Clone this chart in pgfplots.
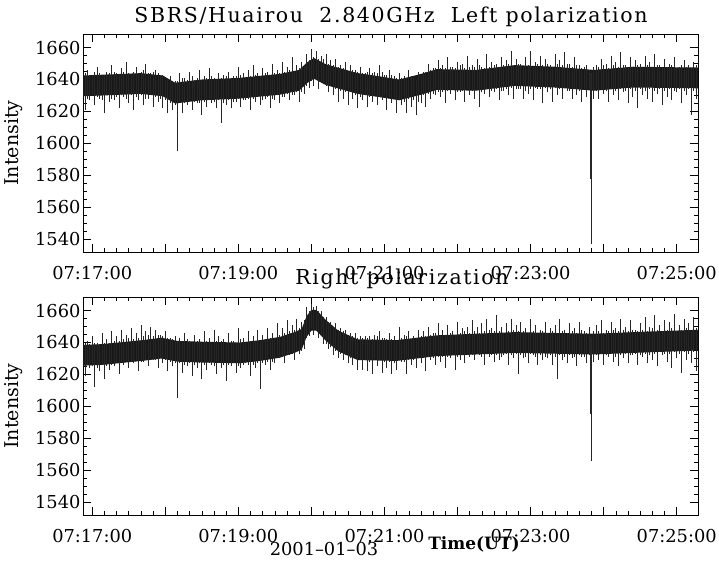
\documentclass[border=0pt]{standalone}
\usepackage{fontspec}
\setmainfont{DejaVu Serif}
\usepackage{pgfplots}
\usepackage{pgfplotstable}
\pgfplotsset{compat=1.18}

% samples every 2 s after 07:17:00 UT: lowest and highest value in each sample
\pgfplotstableread[row sep=\\]{
t lo hi\\
-8 1629 1644\\ -6 1621 1644\\ -4 1628 1646\\ -2 1627 1643\\ 0 1630 1643\\ 2 1624 1645\\ 4 1629 1648\\ 6 1628 1644\\ 8 1627 1642\\ 10 1619 1643\\
12 1630 1645\\ 14 1626 1644\\ 16 1628 1649\\ 18 1627 1645\\ 20 1629 1644\\ 22 1622 1643\\ 24 1630 1647\\ 26 1629 1645\\ 28 1628 1651\\ 30 1625 1644\\
32 1630 1643\\ 34 1621 1645\\ 36 1629 1648\\ 38 1627 1644\\ 40 1630 1645\\ 42 1624 1646\\ 44 1628 1650\\ 46 1628 1644\\ 48 1631 1644\\ 50 1623 1645\\
52 1629 1646\\ 54 1626 1644\\ 56 1628 1643\\ 58 1622 1643\\ 60 1627 1640\\ 62 1619 1640\\ 64 1625 1642\\ 66 1621 1639\\ 68 1624 1639\\ 70 1595 1639\\
72 1626 1644\\ 74 1619 1641\\ 76 1625 1641\\ 78 1624 1640\\ 80 1627 1645\\ 82 1621 1642\\ 84 1626 1640\\ 86 1625 1641\\ 88 1625 1646\\ 90 1618 1640\\
92 1626 1642\\ 94 1623 1641\\ 96 1627 1647\\ 98 1625 1642\\ 100 1626 1641\\ 102 1622 1640\\ 104 1627 1644\\ 106 1613 1641\\ 108 1625 1643\\ 110 1624 1642\\
112 1627 1645\\ 114 1622 1641\\ 116 1626 1642\\ 118 1626 1642\\ 120 1628 1648\\ 122 1623 1643\\ 124 1627 1644\\ 126 1627 1641\\ 128 1628 1646\\ 130 1621 1642\\
132 1628 1649\\ 134 1626 1643\\ 136 1629 1644\\ 138 1624 1642\\ 140 1627 1647\\ 142 1628 1644\\ 144 1629 1645\\ 146 1622 1643\\ 148 1628 1650\\ 150 1627 1644\\
152 1630 1646\\ 154 1625 1644\\ 156 1629 1651\\ 158 1629 1645\\ 160 1631 1648\\ 162 1627 1646\\ 164 1630 1654\\ 166 1630 1645\\ 168 1632 1649\\ 170 1626 1647\\
172 1632 1651\\ 174 1631 1648\\ 176 1636 1656\\ 178 1635 1652\\ 180 1639 1659\\ 182 1636 1654\\ 184 1640 1658\\ 186 1634 1653\\ 188 1638 1655\\ 190 1637 1653\\
192 1636 1656\\ 194 1632 1650\\ 196 1636 1652\\ 198 1630 1649\\ 200 1634 1653\\ 202 1626 1648\\ 204 1633 1649\\ 206 1628 1647\\ 208 1632 1651\\ 210 1624 1645\\
212 1632 1649\\ 214 1628 1646\\ 216 1630 1646\\ 218 1622 1645\\ 220 1629 1648\\ 222 1627 1644\\ 224 1630 1644\\ 226 1623 1645\\ 228 1629 1647\\ 230 1626 1644\\
232 1630 1645\\ 234 1624 1644\\ 236 1629 1649\\ 238 1627 1645\\ 240 1630 1643\\ 242 1621 1643\\ 244 1629 1646\\ 246 1625 1643\\ 248 1628 1642\\ 250 1619 1641\\
252 1627 1644\\ 254 1624 1641\\ 256 1626 1642\\ 258 1619 1641\\ 260 1628 1646\\ 262 1623 1642\\ 264 1627 1641\\ 266 1618 1640\\ 268 1626 1645\\ 270 1625 1642\\
272 1630 1645\\ 274 1623 1645\\ 276 1631 1650\\ 278 1628 1646\\ 280 1631 1647\\ 282 1630 1647\\ 284 1632 1652\\ 286 1629 1647\\ 288 1632 1649\\ 290 1625 1647\\
292 1633 1654\\ 294 1631 1648\\ 296 1634 1648\\ 298 1627 1647\\ 300 1632 1651\\ 302 1632 1649\\ 304 1633 1650\\ 306 1626 1647\\ 308 1634 1655\\ 310 1630 1648\\
312 1633 1649\\ 314 1628 1648\\ 316 1634 1653\\ 318 1623 1649\\ 320 1632 1648\\ 322 1631 1647\\ 324 1634 1656\\ 326 1629 1648\\ 328 1633 1651\\ 330 1632 1649\\
332 1634 1650\\ 334 1627 1648\\ 336 1633 1654\\ 338 1633 1649\\ 340 1634 1652\\ 342 1630 1650\\ 344 1635 1658\\ 346 1628 1648\\ 348 1634 1653\\ 350 1634 1650\\
352 1634 1650\\ 354 1628 1648\\ 356 1633 1654\\ 358 1631 1649\\ 360 1634 1658\\ 362 1627 1648\\ 364 1635 1651\\ 366 1634 1650\\ 368 1634 1655\\ 370 1625 1649\\
372 1635 1653\\ 374 1632 1650\\ 376 1634 1649\\ 378 1626 1648\\ 380 1635 1656\\ 382 1630 1650\\ 384 1634 1652\\ 386 1628 1649\\ 388 1635 1657\\ 390 1633 1650\\
392 1633 1650\\ 394 1628 1648\\ 396 1634 1654\\ 398 1630 1649\\ 400 1633 1649\\ 402 1626 1647\\ 404 1634 1648\\ 406 1629 1649\\ 408 1634 1646\\ 409.5 1578 1644\\
410 1537 1644\\ 412 1628 1648\\ 414 1633 1649\\ 416 1628 1648\\ 418 1634 1653\\ 420 1631 1649\\ 422 1633 1650\\ 424 1626 1647\\ 426 1634 1655\\ 428 1630 1649\\
430 1633 1651\\ 432 1627 1648\\ 434 1634 1657\\ 436 1632 1649\\ 438 1633 1649\\ 440 1625 1647\\ 442 1634 1654\\ 444 1629 1648\\ 446 1633 1652\\ 448 1622 1649\\
450 1634 1650\\ 452 1630 1647\\ 454 1633 1655\\ 456 1628 1649\\ 458 1634 1651\\ 460 1626 1648\\ 462 1633 1656\\ 464 1631 1649\\ 466 1634 1649\\ 468 1624 1647\\
470 1633 1653\\ 472 1629 1648\\ 474 1634 1650\\ 476 1627 1649\\ 478 1633 1654\\ 480 1632 1647\\ 482 1634 1648\\ 484 1625 1649\\ 486 1633 1652\\ 488 1630 1648\\
490 1634 1649\\ 492 1618 1647\\ 494 1633 1651\\ 496 1628 1649\\ 498 1634 1653\\
}\lefttab

\pgfplotstableread[row sep=\\]{
t lo hi\\
-8 1625 1643\\ -6 1619 1640\\ -4 1626 1641\\ -2 1624 1639\\ 0 1625 1644\\ 2 1612 1640\\ 4 1624 1640\\ 6 1622 1639\\ 8 1626 1646\\ 10 1617 1640\\
12 1625 1642\\ 14 1623 1640\\ 16 1626 1647\\ 18 1625 1641\\ 20 1627 1644\\ 22 1620 1641\\ 24 1628 1648\\ 26 1626 1642\\ 28 1628 1645\\ 30 1624 1643\\
32 1628 1649\\ 34 1627 1642\\ 36 1629 1646\\ 38 1622 1643\\ 40 1628 1651\\ 42 1628 1644\\ 44 1629 1647\\ 46 1625 1645\\ 48 1630 1650\\ 50 1629 1644\\
52 1629 1648\\ 54 1624 1645\\ 56 1630 1645\\ 58 1627 1644\\ 60 1629 1647\\ 62 1622 1643\\ 64 1628 1643\\ 66 1625 1642\\ 68 1627 1644\\ 70 1605 1641\\
72 1627 1643\\ 74 1621 1641\\ 76 1626 1646\\ 78 1625 1642\\ 80 1627 1641\\ 82 1619 1640\\ 84 1626 1645\\ 86 1624 1641\\ 88 1627 1642\\ 90 1617 1640\\
92 1626 1647\\ 94 1623 1641\\ 96 1627 1643\\ 98 1626 1640\\ 100 1625 1648\\ 102 1620 1641\\ 104 1627 1644\\ 106 1624 1641\\ 108 1626 1642\\ 110 1616 1640\\
112 1626 1646\\ 114 1625 1641\\ 116 1627 1641\\ 118 1621 1640\\ 120 1625 1649\\ 122 1624 1642\\ 124 1626 1643\\ 126 1627 1640\\ 128 1626 1647\\ 130 1619 1641\\
132 1626 1644\\ 134 1624 1641\\ 136 1627 1648\\ 138 1611 1641\\ 140 1627 1645\\ 142 1626 1642\\ 144 1628 1649\\ 146 1623 1643\\ 148 1628 1646\\ 150 1627 1643\\
152 1631 1652\\ 154 1630 1645\\ 156 1631 1649\\ 158 1627 1646\\ 160 1633 1654\\ 162 1632 1647\\ 164 1633 1651\\ 166 1629 1648\\ 168 1634 1655\\ 170 1633 1649\\
172 1635 1653\\ 174 1636 1654\\ 176 1643 1662\\ 178 1644 1660\\ 180 1649 1664\\ 182 1645 1662\\ 184 1648 1663\\ 186 1643 1660\\ 188 1644 1660\\ 190 1639 1656\\
192 1639 1656\\ 194 1636 1653\\ 196 1637 1653\\ 198 1632 1650\\ 200 1635 1652\\ 202 1630 1648\\ 204 1633 1649\\ 206 1629 1647\\ 208 1632 1648\\ 210 1627 1645\\
212 1630 1646\\ 214 1626 1644\\ 216 1630 1646\\ 218 1623 1643\\ 220 1629 1644\\ 222 1623 1643\\ 224 1629 1644\\ 226 1622 1643\\ 228 1628 1644\\ 230 1620 1642\\
232 1630 1645\\ 234 1625 1644\\ 236 1629 1647\\ 238 1621 1643\\ 240 1628 1643\\ 242 1624 1642\\ 244 1628 1646\\ 246 1620 1642\\ 248 1627 1644\\ 250 1623 1641\\
252 1629 1650\\ 254 1628 1643\\ 256 1628 1645\\ 258 1620 1644\\ 260 1629 1647\\ 262 1626 1642\\ 264 1629 1644\\ 266 1624 1643\\ 268 1630 1648\\ 270 1627 1644\\
272 1630 1647\\ 274 1622 1644\\ 276 1631 1650\\ 278 1629 1645\\ 280 1630 1646\\ 282 1626 1646\\ 284 1631 1652\\ 286 1628 1644\\ 288 1631 1648\\ 290 1624 1645\\
292 1631 1651\\ 294 1630 1646\\ 296 1632 1647\\ 298 1623 1645\\ 300 1631 1653\\ 302 1629 1646\\ 304 1632 1649\\ 306 1627 1647\\ 308 1632 1650\\ 310 1631 1646\\
312 1632 1654\\ 314 1629 1647\\ 316 1633 1650\\ 318 1632 1646\\ 320 1631 1652\\ 322 1626 1647\\ 324 1633 1655\\ 326 1631 1648\\ 328 1632 1649\\ 330 1628 1647\\
332 1632 1657\\ 334 1629 1647\\ 336 1631 1650\\ 338 1632 1646\\ 340 1633 1652\\ 342 1626 1647\\ 344 1632 1655\\ 346 1630 1648\\ 348 1633 1651\\ 350 1620 1647\\
352 1632 1653\\ 354 1630 1647\\ 356 1631 1649\\ 358 1627 1646\\ 360 1633 1655\\ 362 1632 1647\\ 364 1631 1651\\ 366 1626 1646\\ 368 1632 1648\\ 370 1629 1647\\
372 1631 1653\\ 374 1630 1646\\ 376 1632 1649\\ 378 1626 1647\\ 380 1631 1651\\ 382 1617 1646\\ 384 1632 1655\\ 386 1629 1647\\ 388 1631 1648\\ 390 1627 1646\\
392 1632 1652\\ 394 1630 1647\\ 396 1631 1649\\ 398 1625 1646\\ 400 1632 1653\\ 402 1631 1648\\ 404 1631 1647\\ 406 1627 1646\\ 408 1632 1650\\ 409.5 1595 1644\\
410 1566 1643\\ 412 1628 1647\\ 414 1632 1651\\ 416 1629 1647\\ 418 1633 1654\\ 420 1626 1646\\ 422 1632 1648\\ 424 1631 1647\\ 426 1633 1653\\ 428 1628 1648\\
430 1631 1649\\ 432 1625 1647\\ 434 1632 1655\\ 436 1630 1648\\ 438 1633 1650\\ 440 1627 1647\\ 442 1632 1654\\ 444 1632 1648\\ 446 1633 1648\\ 448 1626 1647\\
450 1632 1652\\ 452 1631 1648\\ 454 1633 1656\\ 456 1627 1647\\ 458 1632 1650\\ 460 1629 1649\\ 462 1633 1657\\ 464 1625 1648\\ 466 1634 1651\\ 468 1632 1647\\
470 1633 1654\\ 472 1628 1648\\ 474 1633 1653\\ 476 1624 1649\\ 478 1634 1658\\ 480 1630 1647\\ 482 1633 1651\\ 484 1621 1648\\ 486 1634 1655\\ 488 1629 1649\\
490 1633 1652\\ 492 1627 1648\\ 494 1634 1656\\ 496 1622 1649\\ 498 1633 1653\\
}\righttab

\pgfplotsset{
  panel/.style={
    at={(83pt,#1)}, anchor=north west,
    scale only axis, width=615pt, height=218pt,
    xmin=-7.6, xmax=497.5, ymin=1532, ymax=1668.5,
    xtick={0,60,...,480},
    xticklabels={07:17:00,,07:19:00,,07:21:00,,07:23:00,,07:25:00},
    minor x tick num=5,
    ytick={1540,1560,...,1660}, minor y tick num=3,
    tick align=inside, tick pos=both,
    major tick length=8pt, minor tick length=4pt,
    tick style={black, line width=0.6pt},
    axis line style={black, line width=0.8pt},
    /pgf/number format/1000 sep={},
    /pgf/number format/assume math mode=true,
    tick label style={font=\fontsize{17.8}{20}\selectfont},
    xticklabel style={yshift=-11pt},
    yticklabel style={xshift=1pt},
  },
  spikes/.style={black!85, line width=0.85pt, quiver={u=0, v=\thisrow{hi}-\thisrow{lo}}},
  core/.style={fill=black!90, draw=none},
}

\begin{document}
\begin{tikzpicture}[x=1pt, y=1pt]
\useasboundingbox (0,0) rectangle (719,-564);

% ---- Left polarization ----
\begin{axis}[panel=-34pt]
\addplot[core] coordinates {
(-8,1642.5)(40,1644)(58,1642.5)(68,1638)(90,1640)(120,1641)(154,1643.5)(170,1646)(176,1650.5)(182,1653.5)(192,1649.5)(218,1644)(240,1641.5)(252,1640)(270,1643.5)(283,1646.5)(315,1646)(347,1649)(380,1648)(412,1646)(444,1648)(498,1647.5)
(498,1634.5)(444,1635)(412,1633)(380,1635)(347,1636)(315,1633)(283,1633.5)(270,1630.5)(252,1627)(240,1628.5)(218,1631)(192,1636.5)(182,1640.5)(176,1637.5)(170,1633)(154,1630.5)(120,1628)(90,1627)(68,1625)(58,1629.5)(40,1631)(-8,1629.5)
} -- cycle;
\addplot[spikes] table[x=t, y=lo] {\lefttab};
\end{axis}

% ---- Right polarization ----
\begin{axis}[panel=-297pt]
\addplot[core] coordinates {
(-8,1638.5)(8,1639)(41,1641.5)(57,1643)(70,1641)(89,1640.5)(121,1640)(138,1641.5)(154,1643.5)(166,1646.5)(172,1648.5)(176,1656.5)(180,1660.5)(184,1660.5)(192,1654)(202,1647.5)(218,1642)(250,1641.5)(283,1644.5)(315,1645.5)(347,1646.5)(412,1645.5)(444,1646.5)(498,1648)
(498,1635)(444,1633.5)(412,1632.5)(347,1633.5)(315,1632.5)(283,1631.5)(250,1628.5)(218,1629)(202,1634.5)(192,1641)(184,1647.5)(180,1647.5)(176,1643.5)(172,1635.5)(166,1633.5)(154,1630.5)(138,1628.5)(121,1627)(89,1627.5)(70,1628)(57,1630)(41,1628.5)(8,1626)(-8,1625.5)
} -- cycle;
\addplot[spikes] table[x=t, y=lo] {\righttab};
\end{axis}

% titles and labels
\node[font=\fontsize{20.5}{24}\selectfont\addfontfeature{LetterSpace=8}] at (391,-17) {SBRS/Huairou\ \ 2.840GHz\ \ Left polarization};
\node[font=\fontsize{20.5}{24}\selectfont\addfontfeature{LetterSpace=8}] at (402,-279) {Right polarization};
\node[rotate=90, font=\fontsize{19}{22}\selectfont] at (14,-143) {Intensity};
\node[rotate=90, font=\fontsize{19}{22}\selectfont] at (14,-406) {Intensity};
\node[font=\fontsize{17.8}{20}\selectfont] at (324,-549) {2001--01--03};
\node[font=\bfseries\fontsize{17}{20}\selectfont] at (474,-544) {Time(UT)};
\end{tikzpicture}
\end{document}
